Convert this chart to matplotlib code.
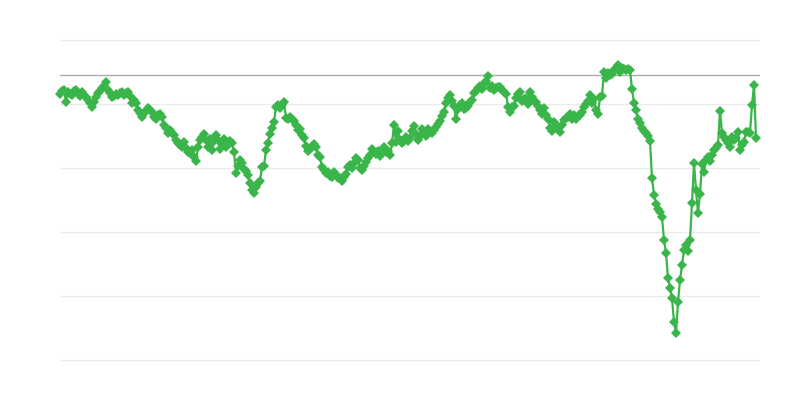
import matplotlib
matplotlib.use("Agg")
import matplotlib.pyplot as plt

# Series levels (arbitrary index units), one per period
seg1 = [306,309,310,298,308,306,305,309,310,307,304,308,305,303,300,297,293,298,303,307,
        309,312,314,318,310,307,303,304,306,305,307,308,305,307,308,304]
seg2 = [297,300,297,290,287,283,287,289,292,290,288,283,281,285,286,283,275,272,267,270,
        267,265,260,257,255,253,258,252,248,247,250,243,239,253,260,263,266,260,253,261,
        250,259,265,260,251,256,261,253,258,259,257,248]
seg3 = [227,234,240,237,231,229,225,217,210,207,213,217,219,233,234,250,257,266,272,278,
        293,295,292,295,298,282,281,283,281,279,275,270,271]
seg4 = [265,262,254,249,251,253,256,253,245,243,233,230,227,228,224,223,228,225,222,222,
        219,223,226,233,235,232,237,242,240,232,230,234,238,242,245,251,248,246,249,244,
        250,253,248,249,245]
seg5 = [257,275,258,269,260,257,259,263,259,262,269,274,266,260,264,271,267,264,271,268,
        267,270,273,276,279,284,288,297,302,305]
seg6 = [299,294,281,291,295,297,291,292,294,298,300,307,309,312,314,311,316,319,324,312,
        314,310,312,313,313,310,308,306,293,288,293,294,302,306,308,299,301,302,296,308,
        303,299,298,294,290,286,292,285,281,272,269,278,272,273,268,275,280,282,283,286,
        281,285,281,284,285,288,293,296,299,305,297,301,290,286,303,304,328,322,327,325,
        326,330,332,335,328,332,331,330,331]
seg7 = [330,311,297,290,281,277,272,269,267,264,259,222,205,196,191,188,183,160,147,122,
        112,102,78,67,98,120,135,150,155,149,160,197,237,210,187,206,236,228,240,243,
        239,245,250,252,255,289,267,263,260,257,253,263,260,262,268,250,255,258,268,268,
        267,295,315,262]

values = seg1 + seg2 + seg3 + seg4 + seg5 + seg6 + seg7
periods = list(range(len(values)))

grid_levels = [40, 104, 168, 232, 296, 360]
reference_level = 325

GREEN = "#39b54a"

fig = plt.figure(figsize=(8, 4), dpi=100)
ax = fig.add_axes([60/800, 0, 700/800, 1])
ax.set_xlim(0, 350)
ax.set_ylim(0, 400)

for g in grid_levels:
    ax.axhline(g, color="#ebebeb", lw=1, zorder=1)
ax.axhline(reference_level, color="#aaaaaa", lw=1, zorder=2)

ax.plot(periods, values, color=GREEN, lw=1.6, marker="D", markersize=5.2,
        markeredgewidth=0, zorder=3, clip_on=False)

for s in ax.spines.values():
    s.set_visible(False)
ax.set_xticks([])
ax.set_yticks([])

fig.savefig("out.png", dpi=100, facecolor="white")
